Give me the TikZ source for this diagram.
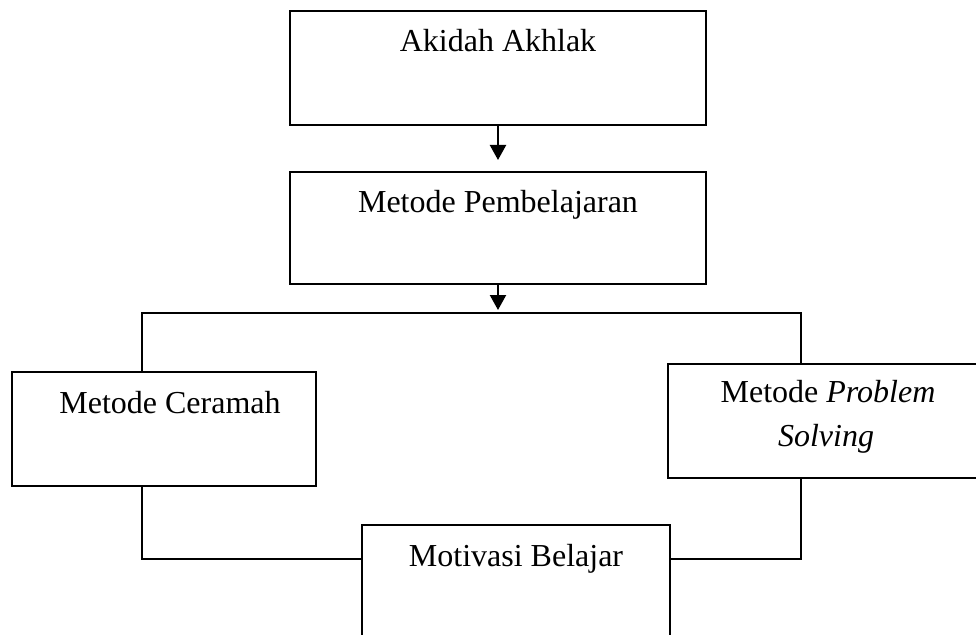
\documentclass[tikz,border=0pt]{standalone}
\usepackage{fontspec}
\setmainfont{Liberation Serif}
\usetikzlibrary{arrows.meta}
\begin{document}
\begin{tikzpicture}[x=0.75pt,y=-0.75pt,
  box/.style={draw=black,line width=1.6pt,rectangle,inner sep=0pt,outer sep=0pt},
  lbl/.style={anchor=base,inner sep=0pt,font=\fontsize{24}{33}\selectfont},
  conn/.style={draw=black,line width=1.6pt},
  arr/.style={conn,-{Triangle[length=11.25pt,width=12pt]}}]
\useasboundingbox (0,0) rectangle (976,635);
\node[box,minimum width=416*0.75pt,minimum height=114*0.75pt] (b1) at (498,68) {};
\node[box,minimum width=416*0.75pt,minimum height=112*0.75pt] (b2) at (498,228) {};
\node[box,minimum width=304*0.75pt,minimum height=114*0.75pt] (b3) at (164,429) {};
\node[box,minimum width=322*0.75pt,minimum height=114*0.75pt] (b4) at (829,421) {};
\node[box,minimum width=308*0.75pt,minimum height=115*0.75pt] (b5) at (516,582.5) {};
\node[lbl] (t1) at (498,52) {Akidah Akhlak};
\node[lbl] (t2) at (498,213) {Metode Pembelajaran};
\node[lbl] (t3) at (170,413) {Metode Ceramah};
\node[lbl] (t4a) at (828,402) {Metode \textit{Problem}};
\node[lbl] (t4b) at (826,446) {\textit{Solving}};
\node[lbl] (t5) at (516,566) {Motivasi Belajar};
\coordinate (L) at (142,313);
\coordinate (R) at (801,313);
\coordinate (S) at (498,313);
\coordinate (ML) at (142,559);
\coordinate (MR) at (801,559);
\draw[arr,shorten >=12*0.75pt] (b1.south) -- (b2.north);
\draw[arr,shorten >=3*0.75pt] (b2.south) -- (S);
\draw[conn] (b3.north -| L) -- (L) -- (R) -- (b4.north -| R);
\draw[conn] (b3.south -| ML) -- (ML) -- (ML -| b5.west);
\draw[conn] (b4.south -| MR) -- (MR) -- (MR -| b5.east);
\end{tikzpicture}
\end{document}
